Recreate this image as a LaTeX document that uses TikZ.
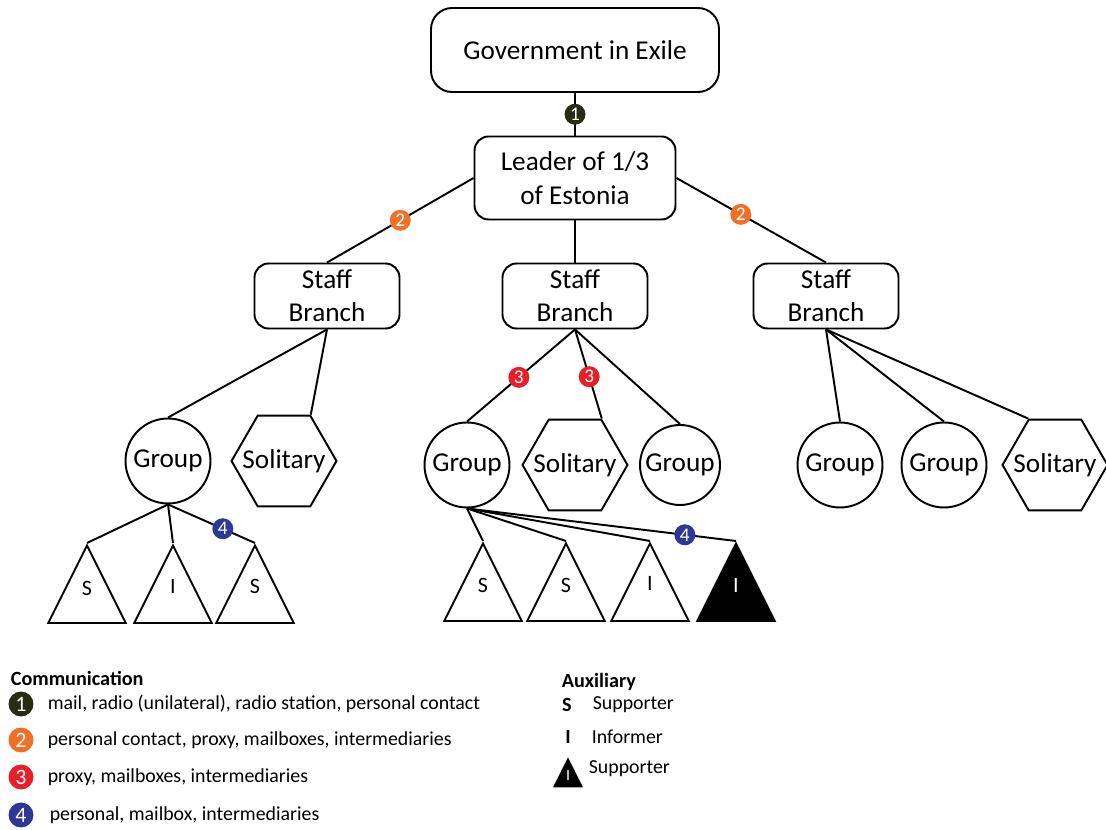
\documentclass[tikz,border=0pt]{standalone}
\usepackage{fontspec}
\setmainfont{Carlito}
\usetikzlibrary{shapes.geometric}

\definecolor{commone}{RGB}{40,44,18}
\definecolor{commtwo}{RGB}{240,112,40}
\definecolor{commthree}{RGB}{232,30,40}
\definecolor{commfour}{RGB}{45,55,150}

\tikzset{
  box/.style={rectangle, rounded corners=8pt, draw, align=center, font=\fontsize{15.5}{19}\selectfont},
  staff/.style={box, minimum width=2.9cm, minimum height=1.3cm},
  group/.style={circle, draw, minimum size=1.7cm, inner sep=0pt, font=\fontsize{15.5}{19}\selectfont},
  solitary/.style={regular polygon, regular polygon sides=6, draw, minimum size=2.1cm, inner sep=0pt,
    label={[font=\fontsize{15.5}{19}\selectfont]center:Solitary}},
  aux/.style={isosceles triangle, isosceles triangle stretches, shape border rotate=90, draw,
    minimum width=1.55cm, minimum height=1.55cm, inner sep=0pt},
  auxlbl/.style={font=\fontsize{12.5}{14}\selectfont},
  badge/.style={circle, inner sep=0pt, minimum size=0.42cm, text=white, font=\fontsize{11}{12}\selectfont},
  legbadge/.style={badge, minimum size=0.5cm, font=\fontsize{12.5}{14}\selectfont},
  legtext/.style={anchor=west, font=\fontsize{11.3}{13}\selectfont},
  legtitle/.style={anchor=west, font=\bfseries\fontsize{11.5}{13}\selectfont}
}

\begin{document}
\begin{tikzpicture}[x=0.02cm, y=-0.02cm, line width=1.1pt]
\useasboundingbox (0,0) rectangle (1106,830);
% Define the nodes
\node[box, minimum width=5.76cm, minimum height=1.68cm, rounded corners=12pt] at (575,50) (gov) {Government in Exile};
\node[box, minimum width=4.02cm, minimum height=1.66cm] at (575,178) (leader) {Leader of 1/3\\of Estonia};
\node[staff] at (327,296) (staffA) {Staff\\Branch};
\node[staff] at (575,296) (staffB) {Staff\\Branch};
\node[staff] at (826,296) (staffC) {Staff\\Branch};
\node[group] at (168,461) (grpA) {Group};
\node[solitary] at (284,461) (solA) {};
\node[group] at (467,465) (grpB) {Group};
\node[solitary] at (575,465) (solB) {};
\node[group, minimum size=1.6cm] at (680,465) (grpC) {Group};
\node[group] at (840,465) (grpD) {Group};
\node[group] at (944,465) (grpE) {Group};
\node[solitary] at (1055,465) (solC) {};
% auxiliaries
\node[aux, anchor=apex] at (87,543) (auxA) {};
\node[auxlbl] at (87,588) (auxAl) {S};
\node[aux, anchor=apex] at (173,543) (auxB) {};
\node[auxlbl] at (173,586) (auxBl) {I};
\node[aux, anchor=apex] at (255,543) (auxC) {};
\node[auxlbl] at (255,586) (auxCl) {S};
\node[aux, anchor=apex] at (483,541) (auxD) {};
\node[auxlbl] at (483,585) (auxDl) {S};
\node[aux, anchor=apex] at (566,541) (auxE) {};
\node[auxlbl] at (566,585) (auxEl) {S};
\node[aux, anchor=apex] at (650,541) (auxF) {};
\node[auxlbl] at (650,583) (auxFl) {I};
\node[aux, anchor=apex, fill=black] at (736,541) (auxG) {};
\node[auxlbl, text=white] at (736,585) (auxGl) {I};
% Draw the paths
\draw (gov) -- (leader) node[badge, fill=commone, midway] (cA) {1};
\draw (leader.west) -- (staffA.north) node[badge, fill=commtwo, pos=0.5] (cB) {2};
\draw (leader) -- (staffB);
\draw (leader.east) -- (staffC.north) node[badge, fill=commtwo, pos=0.43] (cC) {2};
\draw (staffA.south) -- (grpA.north);
\draw (staffA.south) -- (solA.60);
\draw (staffB.south) -- (grpB.north) node[badge, fill=commthree, pos=0.52] (cD) {3};
\draw (staffB.south) -- (solB.60) node[badge, fill=commthree, pos=0.53] (cE) {3};
\draw (staffB.south) -- (grpC.north);
\draw (staffC.south) -- (grpD.north);
\draw (staffC.south) -- (grpE.north);
\draw (staffC.south) -- (solC.120);
\draw (grpA.south) -- (auxA.apex);
\draw (grpA.south) -- (auxB.apex);
\draw (grpA.south) -- (auxC.apex) node[badge, fill=commfour, pos=0.63] (cF) {4};
\draw (grpB.south) -- (auxD.apex);
\draw (grpB.south) -- (auxE.apex);
\draw (grpB.south) -- (auxF.apex);
\draw (grpB.south) -- (auxG.apex) node[badge, fill=commfour, pos=0.81] (cG) {4};
% legend
\node[legtitle] at (4,678) (commtitle) {Communication};
\node[legbadge, fill=commone] at (21,704) (legA) {1};
\node[legtext] at (41,704) (legAt) {mail, radio (unilateral), radio station, personal contact};
\node[legbadge, fill=commtwo] at (21,740) (legB) {2};
\node[legtext] at (41,740) (legBt) {personal contact, proxy, mailboxes, intermediaries};
\node[legbadge, fill=commthree] at (21,777) (legC) {3};
\node[legtext] at (41,777) (legCt) {proxy, mailboxes, intermediaries};
\node[legbadge, fill=commfour] at (21,815) (legD) {4};
\node[legtext] at (43,815) (legDt) {personal, mailbox, intermediaries};
\node[legtitle] at (555,682) (auxtitle) {Auxiliary};
\node[font=\bfseries\fontsize{11.5}{13}\selectfont] at (567,705) (legS) {S};
\node[legtext] at (586,705) (legSt) {Supporter};
\node[font=\bfseries\fontsize{11.5}{13}\selectfont] at (568,737) (legI) {I};
\node[legtext] at (585,737) (legIt) {Informer};
\node[aux, anchor=apex, fill=black, minimum width=0.54cm, minimum height=0.54cm] at (568,757) (legT) {};
\node[text=white, font=\fontsize{9}{10}\selectfont] at (568,775) (legTl) {I};
\node[legtext] at (582,769) (legTt) {Supporter};
\end{tikzpicture}
\end{document}
